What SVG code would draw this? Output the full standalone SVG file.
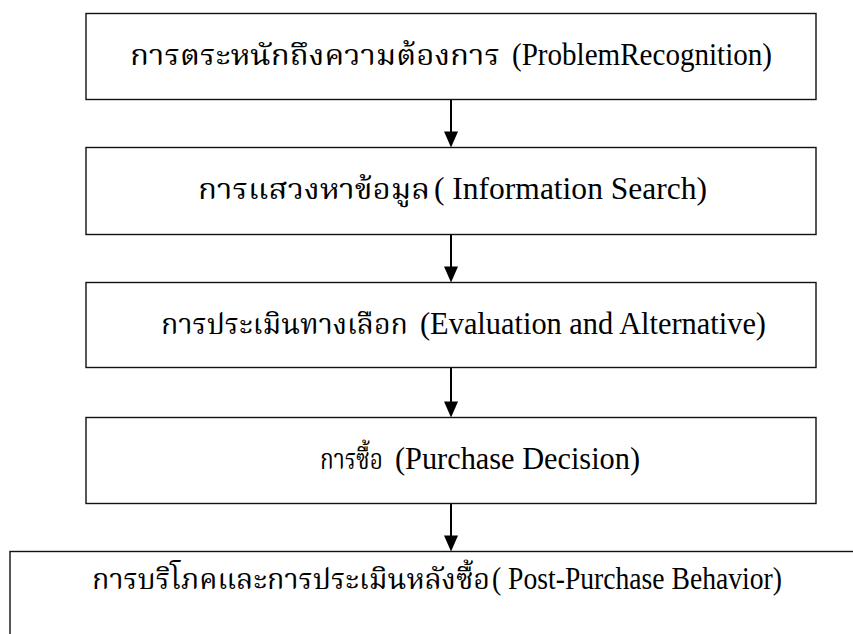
<svg xmlns="http://www.w3.org/2000/svg" width="853" height="634" viewBox="0 0 853 634">
  <style>
    .box { fill: #fff; stroke: #111; stroke-width: 1.4; }
    .th { font-family: "Noto Serif Thai", "Noto Sans Thai", "Noto Sans", "Liberation Serif", serif; font-size: 28px; fill: #000; }
    .en { font-family: "Liberation Serif", "Times New Roman", serif; font-size: 31px; fill: #000; }
    .link { stroke: #000; stroke-width: 2; fill: none; }
    .head { fill: #000; }
  </style>
  <rect width="853" height="634" fill="#fff"/>

  <!-- vertical flow arrows between the stages -->
  <g id="connectors">
    <line class="link" x1="451" y1="99.5" x2="451" y2="134"/>
    <polygon class="head" points="444,131.5 458,131.5 451,147.5"/>
    <line class="link" x1="451" y1="234.5" x2="451" y2="269"/>
    <polygon class="head" points="444,266.5 458,266.5 451,282.5"/>
    <line class="link" x1="451" y1="367.5" x2="451" y2="404"/>
    <polygon class="head" points="444,401.5 458,401.5 451,417.5"/>
    <line class="link" x1="451" y1="503.5" x2="451" y2="538"/>
    <polygon class="head" points="444,535.5 458,535.5 451,551.5"/>
  </g>

  <g id="problem-recognition">
    <rect class="box" x="86" y="13.5" width="730" height="86"/>
    <text class="th" x="130" y="65" textLength="370" lengthAdjust="spacingAndGlyphs">การตระหนักถึงความต้องการ</text>
    <text class="en" x="512" y="65" textLength="260" lengthAdjust="spacingAndGlyphs">(ProblemRecognition)</text>
  </g>

  <g id="information-search">
    <rect class="box" x="86" y="147.5" width="730" height="87"/>
    <text class="th" x="198" y="199" textLength="232" lengthAdjust="spacingAndGlyphs">การแสวงหาข้อมูล</text>
    <text class="en" x="434" y="199" textLength="273" lengthAdjust="spacingAndGlyphs">( Information Search)</text>
  </g>

  <g id="evaluation">
    <rect class="box" x="86" y="282.5" width="730" height="85"/>
    <text class="th" x="161" y="334" textLength="247" lengthAdjust="spacingAndGlyphs">การประเมินทางเลือก</text>
    <text class="en" x="420" y="334" textLength="346" lengthAdjust="spacingAndGlyphs">(Evaluation and Alternative)</text>
  </g>

  <g id="purchase-decision">
    <rect class="box" x="86" y="417.5" width="730" height="86"/>
    <text class="th" x="320" y="469" textLength="63" lengthAdjust="spacingAndGlyphs">การซื้อ</text>
    <text class="en" x="395" y="469" textLength="245" lengthAdjust="spacingAndGlyphs">(Purchase Decision)</text>
  </g>

  <g id="post-purchase">
    <rect class="box" x="10" y="551.5" width="870" height="100"/>
    <text class="th" x="92" y="589" textLength="398" lengthAdjust="spacingAndGlyphs">การบริโภคและการประเมินหลังซื้อ</text>
    <text class="en" x="492" y="589" textLength="290" lengthAdjust="spacingAndGlyphs">( Post-Purchase Behavior)</text>
  </g>
</svg>
